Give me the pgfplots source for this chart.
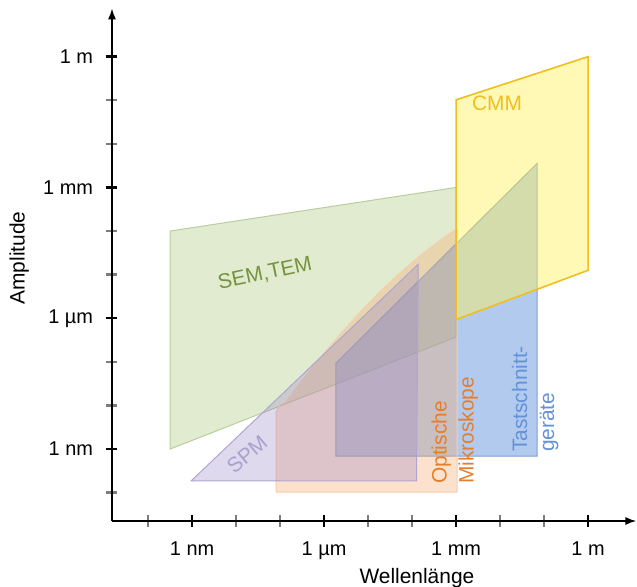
\documentclass[border=0pt]{standalone}
\usepackage{fontspec}
\setmainfont{Liberation Sans}
\usepackage{pgfplots}
\pgfplotsset{compat=1.18}
\usetikzlibrary{arrows.meta}
\definecolor{gfill}{RGB}{169,199,120}
\definecolor{gline}{RGB}{185,205,160}
\definecolor{gtext}{RGB}{118,146,60}
\definecolor{ofill}{RGB}{245,170,110}
\definecolor{oline}{RGB}{245,205,175}
\definecolor{otext}{RGB}{232,125,40}
\definecolor{pfill}{RGB}{150,130,200}
\definecolor{pline}{RGB}{175,165,210}
\definecolor{ptext}{RGB}{170,160,205}
\definecolor{bfill}{RGB}{100,150,220}
\definecolor{bline}{RGB}{125,160,215}
\definecolor{btext}{RGB}{100,145,215}
\definecolor{yfill}{RGB}{255,242,90}
\definecolor{yline}{RGB}{240,190,30}
\definecolor{mtick}{RGB}{125,125,125}
\begin{document}
\begin{tikzpicture}
\begin{axis}[name=ax, x=44bp, y=43.6bp,
  xmin=-10.82, xmax=1.1, ymin=-10.65, ymax=1.11,
  axis lines=left,
  axis line style={line width=1.8bp, -{Latex[length=11bp,width=8bp]}},
  xtick={-9,-6,-3,0}, xticklabels={1 nm,1 µm,1 mm,1 m},
  ytick={-9,-6,-3,0}, yticklabels={1 nm,1 µm,1 mm,1 m},
  minor xtick={-10,-8,-7,-5,-4,-2,-1},
  minor ytick={-10,-8,-7,-5,-4,-2,-1},
  tick align=center, major tick length=11bp, minor tick length=11bp,
  every tick/.style={line width=2.4bp},
  every major tick/.style={line width=2.4bp, black},
  every minor tick/.style={line width=2.4bp, mtick},
  ticklabel style={font=\fontsize{20}{24}\selectfont},
  xticklabel style={yshift=-12bp},
  yticklabel style={xshift=-10bp},
  clip=false]
% SEM,TEM
\addplot[fill=gfill, fill opacity=0.35, draw=gline, line width=1bp, mark=none]
  coordinates {(-9.5,-9) (-9.5,-4.0) (-3,-3) (-3,-6.43)} -- cycle;
% Tastschnittgeraete
\addplot[fill=bfill, fill opacity=0.5, draw=bline, line width=1bp, mark=none]
  coordinates {(-5.73,-9.16) (-5.73,-7.03) (-1.16,-2.45) (-1.16,-9.16)} -- cycle;
% Optische Mikroskope
\addplot[fill=ofill, fill opacity=0.35, draw=oline, line width=1bp, mark=none]
  coordinates {(-7.09,-9.99) (-7.09,-8.151) (-7.045,-8.048) (-6.977,-7.98) (-6.886,-7.945)
   (-6.545,-7.484) (-6.091,-6.904) (-5.636,-6.365) (-5.182,-5.856) (-4.727,-5.388)
   (-4.273,-4.956) (-3.818,-4.564) (-3.364,-4.211) (-2.977,-3.94) (-2.977,-9.99)} -- cycle;
% SPM
\addplot[fill=pfill, fill opacity=0.3, draw=pline, line width=1bp, mark=none]
  coordinates {(-9.02,-9.73) (-3.86,-4.76) (-3.9,-9.73)} -- cycle;
% CMM
\addplot[fill=yfill, fill opacity=0.45, draw=yline, line width=1.6bp, mark=none]
  coordinates {(-3,-6.03) (-3,-0.99) (0,0) (0,-4.9)} -- cycle;
\node[font=\fontsize{21}{25}\selectfont, text=gtext, rotate=12] at (axis cs:-7.34,-4.98) {SEM,TEM};
\node[font=\fontsize{21}{25}\selectfont, text=yline] at (axis cs:-2.07,-1.06) {CMM};
\node[font=\fontsize{21}{25}\selectfont, text=ptext, rotate=40] at (axis cs:-7.75,-9.12) {SPM};
\node[font=\fontsize{21}{27}\selectfont, text=otext, rotate=90, anchor=west, align=left, inner sep=0pt] at (axis cs:-3.03,-9.8) {Optische\\Mikroskope};
\node[font=\fontsize{21}{27}\selectfont, text=btext, rotate=90, anchor=west, align=left, inner sep=0pt] at (axis cs:-1.2,-9.07) {Tastschnitt-\\geräte};
\node[font=\fontsize{21}{25}\selectfont] at (axis cs:-3.89,-11.95) {Wellenlänge};
\node[font=\fontsize{21}{25}\selectfont, rotate=90] at (axis cs:-12.93,-4.62) {Amplitude};
\end{axis}
\pgfresetboundingbox
\path[use as bounding box] (ax.south west) ++(-112bp,-66bp) rectangle ++(637bp,587bp);
\end{tikzpicture}
\end{document}
